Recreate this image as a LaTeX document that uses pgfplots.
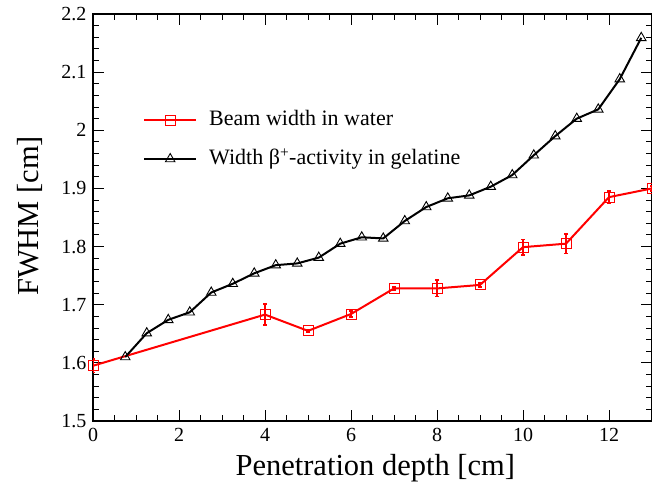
\documentclass[border=0pt]{standalone}
\usepackage{fontspec}
\setmainfont{Liberation Serif}
\usepackage{pgfplots}
\pgfplotsset{compat=1.18}
\begin{document}
\begin{tikzpicture}
\begin{axis}[
 name=ax,
 scale only axis, width=559pt, height=407pt,
 xmin=0, xmax=13, ymin=1.5, ymax=2.2,
 xtick={0,2,4,6,8,10,12}, ytick={1.5,1.6,1.7,1.8,1.9,2,2.1,2.2},
 minor x tick num=3, minor y tick num=4,
 tick align=inside, major tick length=11pt, minor tick length=6pt,
 every tick/.style={black, line width=0.9pt},
 axis line style={line width=1.2pt},
 tick label style={font=\fontsize{20}{20}\selectfont},
 xticklabel style={anchor=base, yshift=-21pt},
 yticklabel style={xshift=-3pt},
 /pgf/number format/assume math mode=true,
 xlabel={Penetration depth [cm]}, ylabel={FWHM [cm]},
 label style={font=\fontsize{30.5}{30.5}\selectfont},
 every axis x label/.append style={at={(axis description cs:0.505,-0.1334)}, anchor=base},
 every axis y label/.append style={at={(axis description cs:-0.0966,0.504)}, anchor=base, rotate=0},
 legend cell align=left,
 legend style={draw=none, fill=none, at={(axis cs:1.163,2.036)}, anchor=north west,
   font=\fontsize{22}{22}\selectfont, row sep=18pt, column sep=12pt, inner sep=0pt,
   nodes={inner sep=0pt, text height=16pt, text depth=5pt}},
 legend image code/.code={\draw[mark repeat=2,mark phase=2,#1] plot coordinates {(0pt,0pt) (26pt,0pt) (52pt,0pt)};},
]
\addplot[red, line width=2pt, mark=square, mark size=5pt, mark options={line width=0.9pt, solid, fill=none},
  error bars/.cd, y dir=both, y explicit,
  error bar style={red, line width=1.8pt},
  error mark options={red, line width=1.8pt, mark size=1.6pt, rotate=90}]
 table[x=x, y=y, y error=e] {
x y e
0 1.595 0.0115
4 1.683 0.018
5 1.655 0.002
6 1.684 0.005
7 1.728 0.003
8 1.728 0.014
9 1.734 0.003
10 1.799 0.013
11 1.805 0.017
12 1.885 0.011
13 1.900 0.004
};
\addlegendentry{Beam width in water}
\addplot[black, line width=2pt, mark=triangle, mark size=5.5pt, mark options={line width=0.9pt, solid, fill=none}]
 table[x=x, y=y] {
x y
0.75 1.610
1.25 1.651
1.75 1.674
2.25 1.687
2.75 1.721
3.25 1.736
3.75 1.754
4.25 1.768
4.75 1.771
5.25 1.781
5.75 1.805
6.25 1.816
6.75 1.814
7.25 1.844
7.75 1.868
8.25 1.883
8.75 1.888
9.25 1.903
9.75 1.923
10.25 1.957
10.75 1.990
11.25 2.020
11.75 2.036
12.25 2.088
12.75 2.159
};
\addlegendentry{Width β\textsuperscript{+}-activity in gelatine}
\end{axis}
\pgfresetboundingbox
\path[use as bounding box] ([shift={(-93pt,-64pt)}]ax.south west) rectangle ([shift={(0pt,14pt)}]ax.north east);
\end{tikzpicture}
\end{document}
